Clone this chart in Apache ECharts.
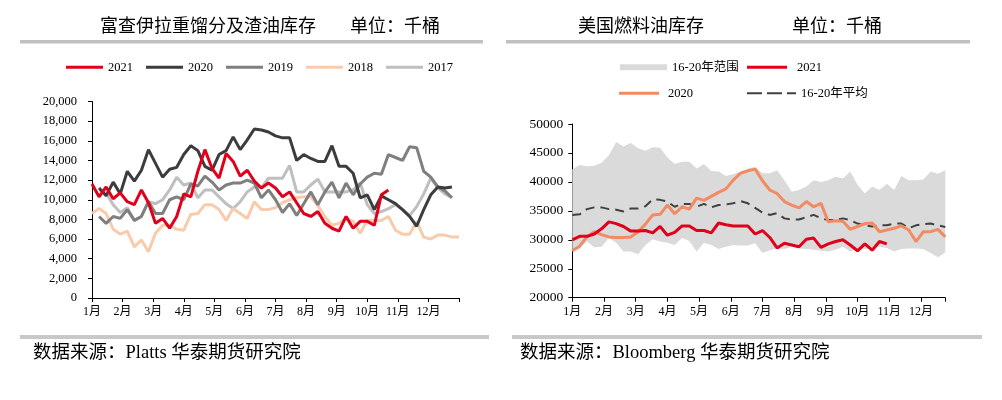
<!DOCTYPE html>
<html><head><meta charset="utf-8">
<script src="https://cdn.jsdelivr.net/npm/echarts@6/dist/echarts.min.js"></script>
<style>html,body{margin:0;padding:0;background:#fff}#c{width:1002px;height:400px}</style>
</head><body><div id="c"></div>
<script>
// ---- labels ----
const monthLabels = ['1月','2月','3月','4月','5月','6月','7月','8月','9月','10月','11月','12月'];
const leftTitle = '富查伊拉重馏分及渣油库存';
const rightTitle = '美国燃料油库存';
const unitText = '单位：千桶';
const leftSource = '数据来源：Platts 华泰期货研究院';
const rightSource = '数据来源：Bloomberg 华泰期货研究院';
const leftNames = ['2021','2020','2019','2018','2017'];
const rightNames = ['16-20年范围','2021','2020','16-20年平均'];

// ---- left chart: Fujairah heavy distillates & residues, weekly (index = week of year) ----
const fuj2021 = [11600,10300,11300,10100,10700,9800,9500,11000,9700,7600,8100,7100,8300,10600,10300,12900,15100,13200,12200,14700,13900,12400,13000,11900,11200,11700,11200,10300,10800,9700,8600,8300,8800,7600,7100,6800,8300,7100,7800,7800,7400,10500,11000];
const fuj2020 = [null,11200,10400,11800,10600,12900,11900,13000,15100,13700,12300,13100,13300,14600,15500,15000,13400,13000,14600,15000,16400,15100,16100,17200,17100,16900,16500,16300,16300,14000,14600,14200,13900,13900,15500,13400,13400,12700,10200,10500,9000,10400,10000,9600,9000,8300,7300,9000,10500,11300,11200,11300];
const fuj2019 = [null,8300,7600,8300,8100,9000,7900,8300,9800,8600,8600,10000,10300,10000,11600,11400,12400,11800,11000,11500,11700,11700,12000,11700,10200,11000,10000,8700,9600,8400,9600,10800,9500,10800,11800,10200,11700,10500,11600,12300,12700,12600,14600,14300,14000,15400,15300,12900,12300,11300,10900,10200];
const fuj2018 = [8600,9100,8600,7000,6500,6800,5200,5900,4700,6600,7400,7400,7000,6900,8500,8600,9500,9500,9000,7900,9100,8600,8100,9800,9000,9000,9200,9700,10000,10200,10300,10300,9400,8300,7400,7600,8100,7800,6600,7900,7900,7900,8300,6900,6500,6500,7800,6200,6000,6400,6400,6200,6200];
const fuj2017 = [null,11000,10700,9500,8700,9200,7900,8300,9800,9600,10000,11000,12300,11500,11700,10200,11000,11000,10300,9600,9100,9800,10800,11300,11200,12200,12200,12200,13500,10800,10800,11500,12100,10800,10800,10800,10800,11000,11700,9500,8600,8800,9100,9500,9000,8400,9300,10600,12200,11200,10600,10200];

// ---- right chart: US fuel oil stocks, weekly ----
const usRangeLow  = [28000,28500,29700,28700,28800,30300,29500,28000,28000,27500,29100,30100,29700,29500,29100,30300,29800,28000,29500,29100,28400,28800,29100,29000,29000,29400,27700,28200,28500,28400,28800,28500,28400,28300,28100,28000,28300,28800,28000,28500,28400,28500,28800,28600,28000,28400,28500,28500,28400,27700,27000,27800];
const usRangeHigh = [42200,42900,42700,42800,43300,44600,46900,46100,46700,45800,45400,46000,45900,44200,43100,43500,43500,42300,43100,41900,41800,41000,41300,41800,42300,42600,41500,41500,42000,40300,38300,38600,39200,40300,40000,40300,40900,40600,41800,39500,38000,39200,38600,39700,38600,41000,40300,40300,40400,41800,41400,42000];
const usAvg       = [34300,34400,35300,35600,35600,35300,35200,34900,35400,35400,35800,37000,36900,36600,35700,36200,36200,35700,36200,35600,36000,36100,36300,36700,36300,35500,34700,34300,34600,33700,33500,33500,33900,34300,33700,33400,33400,33700,33400,32800,32500,32300,32500,32500,32800,32800,32000,32500,32700,32800,32500,32200];
const us2020      = [28100,28900,30500,31400,30900,30500,30400,30400,30500,31400,32700,34300,34400,36000,34500,35700,35300,37200,36800,37500,38200,38800,40300,41500,41900,42200,40200,38600,38000,36600,36000,35500,36600,35700,36300,33100,33300,33200,31800,32300,32800,32900,31400,31700,32000,32400,31700,29700,31400,31400,31800,30500];
const us2021      = [30000,30600,30600,31000,31900,33100,32800,32300,31500,31500,31600,31200,32300,30800,31300,32400,32400,31600,31600,31200,32900,32600,32400,32400,32400,31000,31600,30400,28600,29400,29100,28800,30100,30300,28700,29300,29700,30000,29100,28100,29300,28200,29700,29300];

const WEEK = 12 / 52; // one week in month units on the x axis
const toXY = arr => arr.map((v, i) => v == null ? null : [i * WEEK, v]).filter(Boolean);

const SERIF = "'Liberation Serif','Times New Roman','Noto Sans CJK SC',serif";
const CJK = "'Noto Sans CJK SC',sans-serif";
const LINE_ICON = 'path://M0,0H40V3H0Z';
const DASH_ICON = 'path://M0,0H15V2H0Z M20,0H35V2H20Z M40,0H49V2H40Z';

const C_RED = '#e0001b', C_ORANGE = '#f28a62', C_DARK = '#3c3c3c', C_AVG = '#404040', C_BAND = '#dadada';

const chart = echarts.init(document.getElementById('c'), null, {renderer: 'canvas'});

function xAxisCfg(gridIndex, max) {
  return {
    type: 'value', gridIndex, min: 0, max, interval: 1,
    axisLine: {show: true, lineStyle: {color: '#000', width: 1}},
    axisTick: {show: true, inside: false, length: 4, lineStyle: {color: '#000'}},
    splitLine: {show: false},
    axisLabel: {
      color: '#000', fontFamily: SERIF, fontSize: 12, margin: 8,
      formatter: v => (Math.abs(v - Math.round(v)) < 1e-6 && Math.round(v) < 12) ? monthLabels[Math.round(v)] : ''
    }
  };
}

const lineS = (name, arr, color, width, z, extra) => Object.assign({
  name, type: 'line', data: toXY(arr), symbol: 'none', showSymbol: false,
  xAxisIndex: 0, yAxisIndex: 0, z,
  lineStyle: {color, width}, itemStyle: {color}, animation: false
}, extra || {});

const legText = {fontFamily: SERIF, fontSize: 12.5, color: '#000'};

const option = {
  animation: false,
  backgroundColor: '#fff',
  grid: [
    {left: 92, width: 367, top: 101.5, height: 196.5, containLabel: false},
    {left: 572.3, width: 373, top: 124, height: 173.7, containLabel: false}
  ],
  xAxis: [xAxisCfg(0, 12), xAxisCfg(1, 51 * WEEK)],
  yAxis: [
    {
      type: 'value', gridIndex: 0, min: 0, max: 20000, interval: 2000,
      axisLine: {show: true, lineStyle: {color: '#000'}},
      axisTick: {show: true, length: 4, lineStyle: {color: '#000'}},
      splitLine: {show: false},
      axisLabel: {color: '#000', fontFamily: SERIF, fontSize: 12.5, margin: 15,
        formatter: v => v.toLocaleString('en-US')}
    },
    {
      type: 'value', gridIndex: 1, min: 20000, max: 50000, interval: 5000,
      axisLine: {show: true, lineStyle: {color: '#000'}},
      axisTick: {show: true, length: 4, lineStyle: {color: '#000'}},
      splitLine: {show: false},
      axisLabel: {color: '#000', fontFamily: SERIF, fontSize: 13.5, margin: 9,
        formatter: v => String(v)}
    }
  ],
  legend: [
    {data: leftNames.map(n => ({name: n, icon: LINE_ICON})), left: 66, top: 61, padding: 0,
      itemWidth: 37, itemHeight: 3, itemGap: 13, textStyle: legText, selectedMode: false},
    {data: [{name: rightNames[0], icon: 'rect', itemStyle: {color: C_BAND}}], left: 620, top: 61, padding: 0,
      itemWidth: 47, itemHeight: 6, textStyle: legText, selectedMode: false},
    {data: [{name: rightNames[1], icon: LINE_ICON, itemStyle: {color: C_RED}}], left: 747, top: 61, padding: 0,
      itemWidth: 50, itemHeight: 3, textStyle: legText, selectedMode: false},
    {data: [{name: rightNames[2], icon: LINE_ICON, itemStyle: {color: C_ORANGE}}], left: 619, top: 87, padding: 0,
      itemWidth: 48, itemHeight: 3, textStyle: legText, selectedMode: false},
    {data: [{name: rightNames[3], icon: DASH_ICON, itemStyle: {color: C_AVG}}], left: 747, top: 87, padding: 0,
      itemWidth: 49, itemHeight: 2, textStyle: legText, selectedMode: false}
  ],
  series: [
    lineS('2017', fuj2017, '#bfbfbf', 3, 2),
    lineS('2018', fuj2018, '#f8cbad', 3, 3),
    lineS('2019', fuj2019, '#7f7f7f', 3, 4),
    lineS('2020', fuj2020, C_DARK, 3, 5),
    lineS('2021', fuj2021, C_RED, 3, 6),
    // right chart: 16-20 range band as a polygon through the axis scales
    {
      name: rightNames[0], type: 'custom', xAxisIndex: 1, yAxisIndex: 1, z: 1, silent: true,
      itemStyle: {color: C_BAND},
      data: [[0, usRangeHigh[0]]],
      renderItem: (params, api) => {
        const top = usRangeHigh.map((v, i) => api.coord([i * WEEK, v]));
        const bot = usRangeLow.map((v, i) => api.coord([i * WEEK, v])).reverse();
        return {type: 'polygon', shape: {points: top.concat(bot)}, style: {fill: C_BAND}};
      }
    },
    lineS(rightNames[3], usAvg, C_AVG, 2, 3, {xAxisIndex: 1, yAxisIndex: 1,
      lineStyle: {color: C_AVG, width: 2, type: [9, 6]}}),
    lineS(rightNames[2], us2020, C_ORANGE, 3, 4, {xAxisIndex: 1, yAxisIndex: 1}),
    lineS(rightNames[1], us2021, C_RED, 3, 5, {xAxisIndex: 1, yAxisIndex: 1})
  ],
  graphic: [
    {type: 'text', left: 100, top: 16, style: {text: leftTitle, font: '18px ' + CJK, fill: '#000'}},
    {type: 'text', left: 350, top: 16, style: {text: unitText, font: '18px ' + CJK, fill: '#000'}},
    {type: 'text', left: 578, top: 16, style: {text: rightTitle, font: '18px ' + CJK, fill: '#000'}},
    {type: 'text', left: 792, top: 16, style: {text: unitText, font: '18px ' + CJK, fill: '#000'}},
    {type: 'rect', shape: {x: 20, y: 40, width: 463, height: 3.5}, style: {fill: '#c0c0c0'}},
    {type: 'rect', shape: {x: 506, y: 40, width: 464, height: 3.5}, style: {fill: '#c0c0c0'}},
    {type: 'rect', shape: {x: 20, y: 335, width: 469, height: 4}, style: {fill: '#c8c8c8'}},
    {type: 'rect', shape: {x: 512, y: 335, width: 470, height: 4}, style: {fill: '#c8c8c8'}},
    {type: 'text', left: 33, top: 344, style: {text: leftSource, font: '18.5px ' + SERIF, fill: '#000'}},
    {type: 'text', left: 520, top: 344, style: {text: rightSource, font: '18.5px ' + SERIF, fill: '#000'}}
  ]
};
chart.setOption(option);
</script>
</body></html>
